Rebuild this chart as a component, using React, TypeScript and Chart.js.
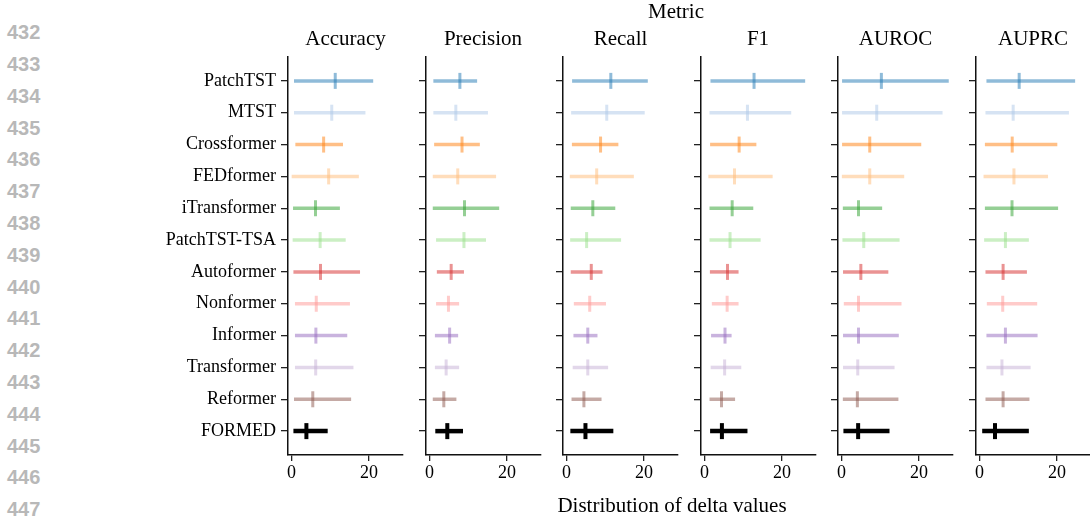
import React, { useEffect, useRef } from 'react';
import { Chart, registerables } from 'chart.js';

Chart.register(...registerables);

const MODELS = ['PatchTST', 'MTST', 'Crossformer', 'FEDformer', 'iTransformer', 'PatchTST-TSA', 'Autoformer', 'Nonformer', 'Informer', 'Transformer', 'Reformer', 'FORMED'];
const METRICS = ['Accuracy', 'Precision', 'Recall', 'F1', 'AUROC', 'AUPRC'];
const COLORS = ['rgba(31,119,180,0.5)', 'rgba(174,199,232,0.5)', 'rgba(255,127,14,0.5)', 'rgba(255,187,120,0.5)', 'rgba(44,160,44,0.5)', 'rgba(152,223,138,0.5)', 'rgba(214,39,40,0.5)', 'rgba(255,152,150,0.5)', 'rgba(148,103,189,0.5)', 'rgba(197,176,213,0.5)', 'rgba(140,86,75,0.5)', 'rgba(0,0,0,1)'];
const X_TICKS = [0, 20];
const LINE_NUMBERS = ['432', '433', '434', '435', '436', '437', '438', '439', '440', '441', '442', '443', '444', '445', '446', '447'];

const ACC_MIN = [0.65, 0.65, 1.0, 0.05, 0.4, 0.3, 0.5, 0.9, 0.9, 0.9, 0.65, 0.5];
const ACC_MED = [11.3, 10.4, 8.3, 9.6, 6.2, 7.4, 7.5, 6.4, 6.3, 6.25, 5.5, 3.85];
const ACC_MAX = [21.1, 19.1, 13.3, 17.4, 12.5, 14.0, 17.7, 15.1, 14.4, 16.0, 15.4, 9.35];

const PREC_MIN = [1.0, 1.0, 1.2, 0.85, 0.85, 1.7, 1.9, 1.7, 1.4, 1.4, 0.85, 1.5];
const PREC_MED = [7.85, 6.8, 8.4, 7.3, 9.05, 8.9, 5.6, 4.9, 5.2, 4.3, 3.7, 4.6];
const PREC_MAX = [12.3, 15.1, 13.0, 17.2, 18.0, 14.6, 8.9, 7.65, 7.4, 7.65, 6.95, 8.65];

const REC_MIN = [1.45, 1.2, 1.4, 0.85, 1.1, 0.95, 1.1, 1.9, 1.8, 1.6, 1.3, 1.0];
const REC_MED = [11.45, 10.4, 8.8, 7.8, 6.8, 5.2, 6.4, 6.0, 5.5, 5.5, 4.5, 4.9];
const REC_MAX = [21.0, 20.2, 13.4, 17.4, 12.6, 14.1, 9.3, 10.2, 8.0, 10.75, 9.05, 12.1];

const F1_MIN = [1.55, 1.3, 1.45, 1.0, 1.3, 1.3, 1.4, 1.9, 1.7, 1.6, 1.3, 1.45];
const F1_MED = [12.8, 11.1, 8.95, 7.75, 7.15, 6.6, 5.95, 5.85, 5.3, 5.2, 4.4, 4.5];
const F1_MAX = [26.0, 22.4, 13.4, 17.6, 12.6, 14.5, 8.8, 8.8, 7.0, 9.5, 7.9, 11.1];

const AUROC_MIN = [0.15, 0.15, 0.15, 0.1, 0.35, 0.25, 0.4, 0.6, 0.4, 0.4, 0.35, 0.5];
const AUROC_MED = [10.3, 9.1, 7.3, 7.3, 4.4, 5.75, 5.0, 4.4, 4.4, 4.2, 4.1, 4.3];
const AUROC_MAX = [27.7, 26.1, 20.6, 16.2, 10.5, 15.0, 12.1, 15.5, 14.8, 13.7, 14.7, 12.4];

const AUPRC_MIN = [1.8, 1.55, 1.4, 1.05, 1.4, 1.2, 1.55, 1.9, 1.8, 1.8, 1.55, 0.7];
const AUPRC_MED = [10.25, 8.7, 8.45, 8.9, 8.4, 6.7, 6.1, 6.0, 6.7, 5.8, 6.1, 4.0];
const AUPRC_MAX = [24.7, 23.1, 20.1, 17.7, 20.3, 12.75, 12.25, 14.9, 15.0, 13.2, 12.9, 12.75];

const MINS = [ACC_MIN, PREC_MIN, REC_MIN, F1_MIN, AUROC_MIN, AUPRC_MIN];
const MEDS = [ACC_MED, PREC_MED, REC_MED, F1_MED, AUROC_MED, AUPRC_MED];
const MAXS = [ACC_MAX, PREC_MAX, REC_MAX, F1_MAX, AUROC_MAX, AUPRC_MAX];

const SERIF = "'Liberation Serif', 'Times New Roman', serif";
const X_MIN = -0.9;
const X_MAX = 28.8;
const PLOT_W = 115;
const PLOT_TOP = 57;
const PLOT_BOTTOM = 455;
const CANVAS_H = 500;
const FIRST_SPINE = 288;
const PANEL_STEP = 137.5;

function Panel({ index }: { index: number }) {
  const ref = useRef<HTMLCanvasElement | null>(null);
  const yw = index === 0 ? 140 : 10;
  const rightPad = 4;
  const spineX = FIRST_SPINE + PANEL_STEP * index;
  const left = spineX - yw;
  const width = yw + PLOT_W + rightPad;

  useEffect(() => {
    if (!ref.current) return;
    const mins = MINS[index];
    const meds = MEDS[index];
    const maxs = MAXS[index];
    const last = MODELS.length - 1;
    const medianDs: any = {
      type: 'scatter',
      data: meds.map((m, i) => ({ x: m, y: i })),
      pointStyle: 'line',
      pointRotation: 90,
      pointRadius: MODELS.map(() => 8),
      pointBorderWidth: MODELS.map((_, i) => (i === last ? 4 : 3)),
      pointBorderColor: COLORS,
      pointBackgroundColor: COLORS,
      showLine: false,
    };
    const rangeDs: any[] = MODELS.map((_, i) => ({
      type: 'line',
      data: [{ x: mins[i], y: i }, { x: maxs[i], y: i }],
      borderColor: COLORS[i],
      borderWidth: i === last ? 4.5 : 3.5,
      pointRadius: 0,
      showLine: true,
      borderCapStyle: 'butt',
    }));
    const tickFont = { family: SERIF, size: 18 };
    const chart = new Chart(ref.current, {
      type: 'scatter',
      data: { datasets: [medianDs, ...rangeDs] },
      options: {
        animation: false,
        responsive: false,
        maintainAspectRatio: false,
        devicePixelRatio: 1,
        layout: { autoPadding: false, padding: { left: 0, right: rightPad, top: PLOT_TOP, bottom: 0 } },
        plugins: {
          legend: { display: false },
          tooltip: { enabled: false },
          title: { display: false },
        },
        scales: {
          x: {
            type: 'linear',
            position: 'bottom',
            min: X_MIN,
            max: X_MAX,
            afterBuildTicks: (s: any) => { s.ticks = X_TICKS.map((v) => ({ value: v })); },
            afterFit: (s: any) => { s.height = CANVAS_H - PLOT_BOTTOM; },
            grid: { drawOnChartArea: false, drawTicks: true, tickLength: 6, color: '#222', lineWidth: 1.3 },
            border: { display: true, color: '#111', width: 1.5 },
            ticks: { color: '#000', font: { ...tickFont, lineHeight: 1.2 }, padding: 1, maxRotation: 0, autoSkip: false, callback: (v: any) => String(v) },
          },
          y: {
            type: 'linear',
            reverse: true,
            min: -0.75,
            max: 11.75,
            afterBuildTicks: (s: any) => { s.ticks = MODELS.map((_, i) => ({ value: i })); },
            afterFit: (s: any) => { s.width = yw; },
            grid: { drawOnChartArea: false, drawTicks: true, tickLength: 7, color: '#222', lineWidth: 1.3 },
            border: { display: true, color: '#111', width: 1.5 },
            ticks: {
              display: index === 0,
              color: '#000',
              font: tickFont,
              padding: 5,
              autoSkip: false,
              callback: (v: any) => MODELS[Math.round(v)] ?? '',
            },
          },
        },
      } as any,
    });
    return () => chart.destroy();
  }, [index]);

  return (
    <canvas
      ref={ref}
      width={width}
      height={CANVAS_H}
      style={{ position: 'absolute', left, top: 0, width, height: CANVAS_H }}
    />
  );
}

export default function App() {
  return (
    <div style={{ position: 'absolute', left: 0, top: 0, width: 1090, height: 516, overflow: 'hidden', background: '#fff' }}>
      {METRICS.map((_, i) => (
        <Panel key={i} index={i} />
      ))}
      {METRICS.map((m, i) => (
        <div
          key={m}
          style={{ position: 'absolute', left: FIRST_SPINE + PANEL_STEP * i + PLOT_W / 2 - 60, top: 28, width: 120, textAlign: 'center', fontFamily: SERIF, fontSize: 21, lineHeight: '21px', color: '#000' }}
        >
          {m}
        </div>
      ))}
      {LINE_NUMBERS.map((n, k) => (
        <div
          key={n}
          style={{
            position: 'absolute',
            left: 7,
            top: 32 + 31.8 * k - 9.8,
            height: 20,
            lineHeight: '20px',
            fontSize: 20,
            fontWeight: 'bold',
            fontFamily: "'Liberation Sans', Arial, sans-serif",
            color: '#b8b8b8',
          }}
        >
          {n}
        </div>
      ))}
      <div style={{ position: 'absolute', left: 576, top: 1, width: 200, textAlign: 'center', fontFamily: SERIF, fontSize: 21, lineHeight: '21px', color: '#000' }}>
        Metric
      </div>
      <div style={{ position: 'absolute', left: 522, top: 495, width: 300, textAlign: 'center', fontFamily: SERIF, fontSize: 21, lineHeight: '21px', color: '#000' }}>
        Distribution of delta values
      </div>
    </div>
  );
}
